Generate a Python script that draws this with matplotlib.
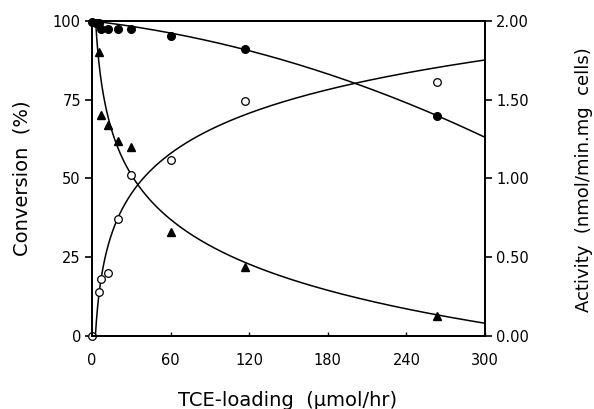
import numpy as np
import matplotlib
matplotlib.use("Agg")
import matplotlib.pyplot as plt
from matplotlib.ticker import FormatStrFormatter

# data (all in % of the left axis)
conv_x = [0, 3, 5, 6.5, 12, 20, 30, 60, 117, 263]
conv_y = [99.8, 99.5, 99.5, 97.4, 97.4, 97.4, 97.4, 95.2, 91.0, 69.8]

tri_x = [5, 7, 12, 20, 30, 60, 117, 263]
tri_y = [90, 70, 67, 62, 60, 33, 22, 6.5]

open_x = [0, 5, 7, 12, 20, 30, 60, 117, 263]
open_y = [0, 14, 18, 20, 37, 51, 56, 74.5, 80.5]

x_ticks = [0, 60, 120, 180, 240, 300]
y_ticks = [0, 25, 50, 75, 100]
y2_ticks = [0.0, 0.5, 1.0, 1.5, 2.0]

# fitted curve parameters
conv_a, conv_b = 0.049, 0.000247       # 100 - a*x - b*x^2
tri_a, tri_b = 120.8, 20.47            # a - b*ln(x), capped at 100
open_a, open_b = -17.5, 18.43          # a + b*ln(x), floored at 0

fig = plt.figure(figsize=(5.94, 4.09), dpi=100)
ax = fig.add_axes([0.1549, 0.1785, 0.6616, 0.7702])

xs = np.linspace(0.01, 300, 3000)
ax.plot(xs, 100 - conv_a * xs - conv_b * xs ** 2, color="black", lw=1.1)
ax.plot(xs, np.minimum(tri_a - tri_b * np.log(xs), 100), color="black", lw=1.1)
ax.plot(xs, np.maximum(open_a + open_b * np.log(xs), 0), color="black", lw=1.1)

ax.plot(conv_x, conv_y, "o", color="black", ms=5.5, clip_on=False)
ax.plot(tri_x, tri_y, "^", color="black", ms=5.5, clip_on=False)
ax.plot(open_x, open_y, "o", mfc="white", mec="black", mew=0.9, ms=5.5, clip_on=False)

ax.set_xlim(0, 300)
ax.set_ylim(0, 100)
ax.set_xticks(x_ticks)
ax.set_yticks(y_ticks)
for s in ax.spines.values():
    s.set_linewidth(1.3)

ax.tick_params(axis="x", direction="in", length=3, width=1, pad=12, labelsize=10.5)
ax.tick_params(axis="y", direction="out", length=5, width=1.2, pad=3, labelsize=10.5)

ax2 = ax.twinx()
ax2.set_ylim(0, 2)
ax2.set_yticks(y2_ticks)
ax2.yaxis.set_major_formatter(FormatStrFormatter("%.2f"))
ax2.tick_params(axis="y", direction="out", length=5, width=1.2, pad=3, labelsize=10.5)
for s in ax2.spines.values():
    s.set_linewidth(1.3)

ax.set_xlabel("TCE-loading  (\u03bcmol/hr)", fontsize=14)
ax.xaxis.set_label_coords(0.497, -0.175)
ax.set_ylabel("Conversion  (%)", fontsize=14)
ax.yaxis.set_label_coords(-0.153, 0.50)
ax2.set_ylabel("Activity  (nmol/min.mg  cells)", fontsize=13)
ax2.yaxis.set_label_coords(1.228, 0.495)

fig.savefig("out.png", dpi=100)
